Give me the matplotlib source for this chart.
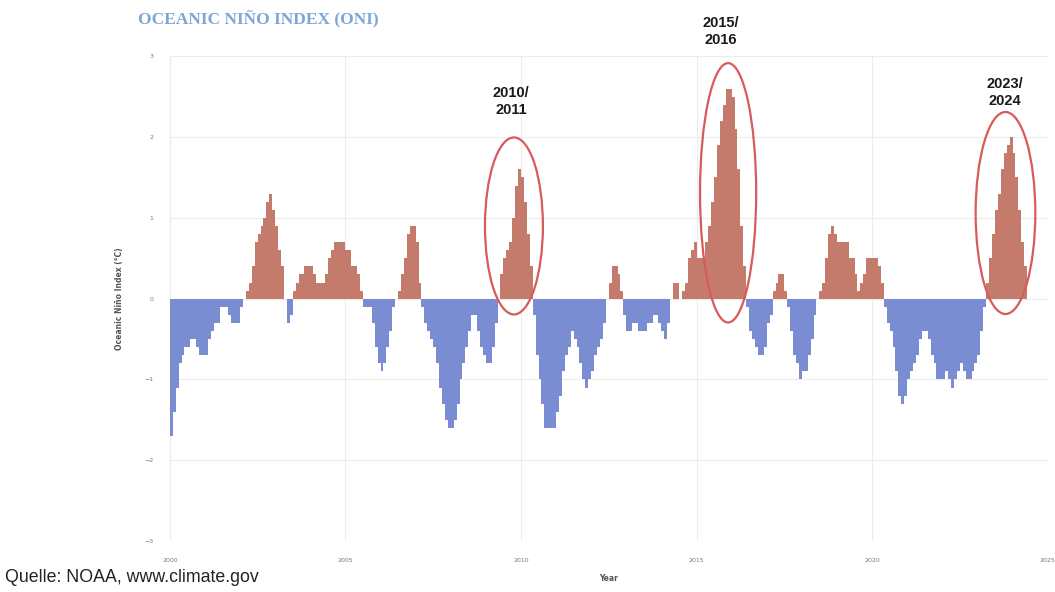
import matplotlib
matplotlib.use("Agg")
import matplotlib.pyplot as plt
from matplotlib.patches import Ellipse
import numpy as np

# Oceanic Niño Index, 3-month running seasons (DJF ... NDJ), 2000 - 2024
oni_2000 = [-1.7, -1.4, -1.1, -0.8, -0.7, -0.6, -0.6, -0.5, -0.5, -0.6, -0.7, -0.7]
oni_2001 = [-0.7, -0.5, -0.4, -0.3, -0.3, -0.1, -0.1, -0.1, -0.2, -0.3, -0.3, -0.3]
oni_2002 = [-0.1, 0.0, 0.1, 0.2, 0.4, 0.7, 0.8, 0.9, 1.0, 1.2, 1.3, 1.1]
oni_2003 = [0.9, 0.6, 0.4, 0.0, -0.3, -0.2, 0.1, 0.2, 0.3, 0.3, 0.4, 0.4]
oni_2004 = [0.4, 0.3, 0.2, 0.2, 0.2, 0.3, 0.5, 0.6, 0.7, 0.7, 0.7, 0.7]
oni_2005 = [0.6, 0.6, 0.4, 0.4, 0.3, 0.1, -0.1, -0.1, -0.1, -0.3, -0.6, -0.8]
oni_2006 = [-0.9, -0.8, -0.6, -0.4, -0.1, 0.0, 0.1, 0.3, 0.5, 0.8, 0.9, 0.9]
oni_2007 = [0.7, 0.2, -0.1, -0.3, -0.4, -0.5, -0.6, -0.8, -1.1, -1.3, -1.5, -1.6]
oni_2008 = [-1.6, -1.5, -1.3, -1.0, -0.8, -0.6, -0.4, -0.2, -0.2, -0.4, -0.6, -0.7]
oni_2009 = [-0.8, -0.8, -0.6, -0.3, 0.0, 0.3, 0.5, 0.6, 0.7, 1.0, 1.4, 1.6]
oni_2010 = [1.5, 1.2, 0.8, 0.4, -0.2, -0.7, -1.0, -1.3, -1.6, -1.6, -1.6, -1.6]
oni_2011 = [-1.4, -1.2, -0.9, -0.7, -0.6, -0.4, -0.5, -0.6, -0.8, -1.0, -1.1, -1.0]
oni_2012 = [-0.9, -0.7, -0.6, -0.5, -0.3, 0.0, 0.2, 0.4, 0.4, 0.3, 0.1, -0.2]
oni_2013 = [-0.4, -0.4, -0.3, -0.3, -0.4, -0.4, -0.4, -0.3, -0.3, -0.2, -0.2, -0.3]
oni_2014 = [-0.4, -0.5, -0.3, 0.0, 0.2, 0.2, 0.0, 0.1, 0.2, 0.5, 0.6, 0.7]
oni_2015 = [0.5, 0.5, 0.5, 0.7, 0.9, 1.2, 1.5, 1.9, 2.2, 2.4, 2.6, 2.6]
oni_2016 = [2.5, 2.1, 1.6, 0.9, 0.4, -0.1, -0.4, -0.5, -0.6, -0.7, -0.7, -0.6]
oni_2017 = [-0.3, -0.2, 0.1, 0.2, 0.3, 0.3, 0.1, -0.1, -0.4, -0.7, -0.8, -1.0]
oni_2018 = [-0.9, -0.9, -0.7, -0.5, -0.2, 0.0, 0.1, 0.2, 0.5, 0.8, 0.9, 0.8]
oni_2019 = [0.7, 0.7, 0.7, 0.7, 0.5, 0.5, 0.3, 0.1, 0.2, 0.3, 0.5, 0.5]
oni_2020 = [0.5, 0.5, 0.4, 0.2, -0.1, -0.3, -0.4, -0.6, -0.9, -1.2, -1.3, -1.2]
oni_2021 = [-1.0, -0.9, -0.8, -0.7, -0.5, -0.4, -0.4, -0.5, -0.7, -0.8, -1.0, -1.0]
oni_2022 = [-1.0, -0.9, -1.0, -1.1, -1.0, -0.9, -0.8, -0.9, -1.0, -1.0, -0.9, -0.8]
oni_2023 = [-0.7, -0.4, -0.1, 0.2, 0.5, 0.8, 1.1, 1.3, 1.6, 1.8, 1.9, 2.0]
oni_2024 = [1.8, 1.5, 1.1, 0.7, 0.4]

oni_by_year = [oni_2000, oni_2001, oni_2002, oni_2003, oni_2004, oni_2005, oni_2006,
               oni_2007, oni_2008, oni_2009, oni_2010, oni_2011, oni_2012, oni_2013,
               oni_2014, oni_2015, oni_2016, oni_2017, oni_2018, oni_2019, oni_2020,
               oni_2021, oni_2022, oni_2023, oni_2024]
start_year = 2000

x_ticks = [2000, 2005, 2010, 2015, 2020, 2025]
y_ticks = [-3, -2, -1, 0, 1, 2, 3]

# highlighted events: label, label position, ellipse centre/size (data units)
events = [
    ("2010/\n2011", (2009.72, 2.44), (2009.80, 0.90), 1.65, 2.19),
    ("2015/\n2016", (2015.68, 3.31), (2015.90, 1.31), 1.60, 3.21),
    ("2023/\n2024", (2023.78, 2.55), (2023.80, 1.06), 1.70, 2.50),
]

values = np.concatenate([np.array(v, dtype=float) for v in oni_by_year])
times = start_year + np.arange(len(values)) / 12.0

RED = "#c47b6c"
BLUE = "#7b8dd2"

fig = plt.figure(figsize=(10.55, 5.92), dpi=100)
ax = fig.add_axes([0.161, 0.086, 0.832, 0.819])

colors = [RED if v > 0 else BLUE for v in values]
ax.bar(times, values, width=1 / 12.0, align="edge", color=colors, linewidth=0)

ax.set_xlim(2000, 2025)
ax.set_ylim(-3, 3)
ax.set_xticks(x_ticks)
ax.set_yticks(y_ticks)
ax.tick_params(axis="both", labelsize=4.5, colors="#777777", length=0, pad=12)
ax.grid(True, color="#ececec", linewidth=0.8)
ax.set_axisbelow(True)
for s in ax.spines.values():
    s.set_visible(False)

ax.set_ylabel("Oceanic Niño Index (°C)", fontsize=5.5, color="#555555",
              fontweight="bold", labelpad=14)
ax.set_xlabel("Year", fontsize=5.5, color="#555555", fontweight="bold", labelpad=8)

for label, (tx, ty), (cx, cy), w, h in events:
    ax.add_patch(Ellipse((cx, cy), w, h, fill=False, edgecolor="#d85a5a",
                         linewidth=1.6, clip_on=False, zorder=5))
    ax.text(tx, ty, label, ha="center", va="center", fontsize=10.5,
            fontweight="bold", family="Liberation Sans", color="#1a1a1a",
            linespacing=1.3, clip_on=False)

fig.text(0.131, 0.967, "OCEANIC NIÑO INDEX (ONI)", fontsize=12.5,
         family="Liberation Serif", fontweight="bold", color="#7ba6d6",
         ha="left", va="center")
fig.text(0.005, 0.024, "Quelle: NOAA, www.climate.gov", fontsize=12.8,
         family="Liberation Sans", color="#222222", ha="left", va="center")

fig.savefig("out.png", dpi=100)
